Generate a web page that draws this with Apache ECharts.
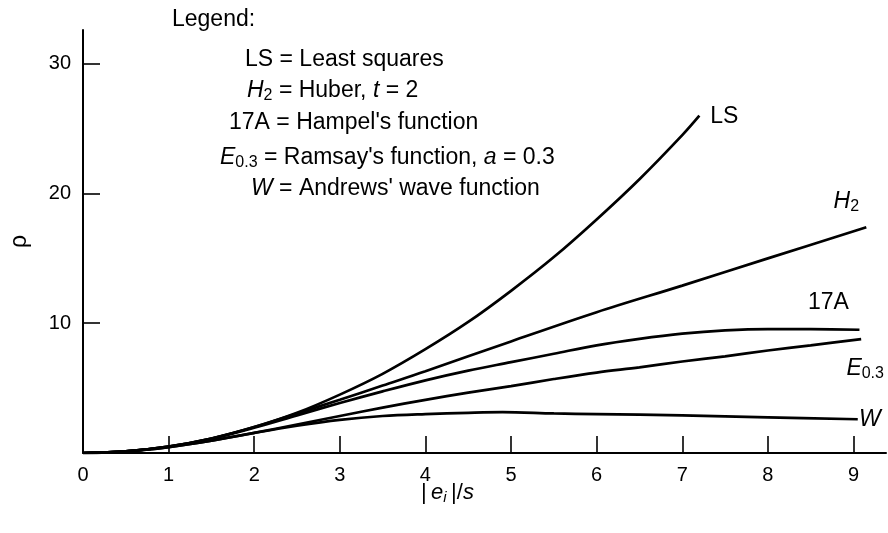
<!DOCTYPE html>
<html><head><meta charset="utf-8">
<script src="https://cdn.jsdelivr.net/npm/echarts@6/dist/echarts.min.js"></script>
<style>html,body{margin:0;padding:0;background:#fff}#c{width:888px;height:533px}</style>
</head><body><div id="c"></div>
<script>
// Axis ticks
const xTicks = [0, 1, 2, 3, 4, 5, 6, 7, 8, 9];
const yTicks = [10, 20, 30];

// LS = Least squares
const lsX = [0, 0.5, 1, 1.5, 2, 2.5, 3, 3.5, 4, 4.5, 5, 5.5, 6, 6.5, 7, 7.2];
const lsY = [0, 0.13, 0.5, 1.12, 2, 3.1, 4.5, 6.1, 8, 10.1, 12.5, 15.1, 18, 21.1, 24.5, 26];
// H2 = Huber, t = 2
const h2X = [0, 0.5, 1, 1.5, 2, 2.5, 3, 3.5, 4, 5, 6, 7, 8, 9.15];
const h2Y = [0, 0.13, 0.5, 1.12, 2, 3.05, 4.1, 5.2, 6.3, 8.6, 10.85, 12.9, 15.0, 17.4];
// 17A = Hampel's function
const hampelX = [0, 0.5, 1, 1.5, 2, 2.5, 3, 3.5, 4, 4.5, 5, 5.5, 6, 6.5, 7, 7.5, 8, 8.5, 9.07];
const hampelY = [0, 0.13, 0.5, 1.1, 1.95, 2.9, 3.85, 4.75, 5.6, 6.35, 7.0, 7.65, 8.3, 8.8, 9.2, 9.45, 9.55, 9.55, 9.5];
// E0.3 = Ramsay's function, a = 0.3
const ramsayX = [0, 0.5, 1, 1.5, 2, 2.5, 3, 3.5, 4, 4.5, 5, 5.5, 6, 6.5, 7, 7.5, 8, 8.5, 9.09];
const ramsayY = [0, 0.12, 0.45, 0.95, 1.55, 2.2, 2.85, 3.5, 4.1, 4.65, 5.15, 5.7, 6.2, 6.6, 7.05, 7.45, 7.9, 8.3, 8.77];
// W = Andrews' wave function
const waveX = [0, 0.5, 1, 1.5, 2, 2.5, 3, 3.5, 4, 4.5, 4.9, 5.5, 6, 7, 8, 9.05];
const waveY = [0, 0.12, 0.45, 0.95, 1.55, 2.1, 2.55, 2.85, 3.0, 3.1, 3.15, 3.05, 3.0, 2.9, 2.75, 2.6];

const FONT = "'Liberation Sans', Arial, Helvetica, sans-serif";
const FS = 23;
const chart = echarts.init(document.getElementById('c'), null, {renderer: 'canvas'});

function pairs(xs, ys) { return xs.map((x, i) => [x, ys[i]]); }
function last(xs, ys) { return [xs[xs.length - 1], ys[ys.length - 1]]; }

const rich = {
  i: {fontStyle: 'italic', fontSize: FS, fontFamily: FONT, color: '#000'},
  sub: {fontSize: 16, fontFamily: FONT, color: '#000', padding: [11, 0, 0, 0], lineHeight: 15},
  n: {fontSize: FS, fontFamily: FONT, color: '#000'}
};

const curves = [
  {name: 'LS', x: lsX, y: lsY},
  {name: 'H2', x: h2X, y: h2Y},
  {name: '17A', x: hampelX, y: hampelY},
  {name: 'E0.3', x: ramsayX, y: ramsayY},
  {name: 'W', x: waveX, y: waveY}
];

const labelDefs = {
  'LS': {text: '{n|LS}', offset: [25, 1]},
  'H2': {text: '{i|H}{sub|2}', offset: [-20, -26]},
  '17A': {text: '{n|17A}', offset: [-31, -27]},
  'E0.3': {text: '{i|E}{sub|0.3}', offset: [4, 29]},
  'W': {text: '{i|W}', offset: [12, 0]}
};

const series = [];
curves.forEach(c => {
  series.push({
    type: 'line', name: c.name, data: pairs(c.x, c.y),
    smooth: 0.35, showSymbol: false, symbol: 'none',
    lineStyle: {color: '#000', width: 2.7},
    z: 3, silent: true
  });
  const d = labelDefs[c.name];
  series.push({
    type: 'scatter', data: [last(c.x, c.y)], symbolSize: 0, silent: true,
    itemStyle: {opacity: 1, color: '#000'},
    label: {show: true, position: 'inside', formatter: d.text, offset: d.offset,
            align: 'center', verticalAlign: 'middle', rich: rich, opacity: 1,
            fontSize: FS, fontFamily: FONT, color: '#000', textBorderWidth: 0}
  });
});

const legendLines = [
  {text: '{n|Legend:}', left: 172, top: 8},
  {text: '{n|LS = Least squares}', left: 245, top: 48},
  {text: '{i|H}{sub|2}{n| = Huber, }{i|t}{n| = 2}', left: 247, top: 77},
  {text: "{n|17A = Hampel's function}", left: 229, top: 111},
  {text: "{i|E}{sub|0.3}{n| = Ramsay's function, }{i|a}{n| = 0.3}", left: 220, top: 144},
  {text: "{i|W}{n| = Andrews' wave function}", left: 251, top: 177}
];

chart.setOption({
  animation: false,
  backgroundColor: '#fff',
  grid: {left: 83, right: 2, top: 30, bottom: 80, containLabel: false},
  xAxis: {
    type: 'value', min: 0, max: 9.38,
    axisLine: {show: true, lineStyle: {color: '#000', width: 2}},
    axisTick: {show: true, inside: true, length: 17, customValues: xTicks, lineStyle: {color: '#000', width: 1.6}},
    axisLabel: {customValues: xTicks, margin: 12, fontSize: 20, fontFamily: FONT, color: '#000'},
    splitLine: {show: false}
  },
  yAxis: {
    type: 'value', min: 0, max: 32.6,
    name: 'ρ', nameLocation: 'middle', nameGap: 52, nameRotate: 90,
    nameTextStyle: {fontSize: 23, fontFamily: FONT, color: '#000'},
    axisLine: {show: true, lineStyle: {color: '#000', width: 2}},
    axisTick: {show: true, inside: true, length: 17, customValues: yTicks, lineStyle: {color: '#000', width: 1.6}},
    axisLabel: {customValues: yTicks, margin: 12, fontSize: 20, fontFamily: FONT, color: '#000'},
    splitLine: {show: false}
  },
  graphic: legendLines.map(l => ({
    type: 'text', left: l.left, top: l.top, silent: true,
    style: {text: l.text, rich: rich, fill: '#000', font: FS + 'px ' + FONT}
  })).concat([{
    type: 'text', left: 421, top: 480, silent: true,
    style: {text: '{n||}{i|\u2009e}{sub|i}{n|\u2009|/}{i|s}', rich: {
      n: {fontSize: 22, fontFamily: FONT, color: '#000'},
      i: {fontSize: 22, fontFamily: FONT, fontStyle: 'italic', color: '#000'},
      sub: {fontSize: 15, fontFamily: FONT, fontStyle: 'italic', color: '#000', padding: [10, 0, 0, 0], lineHeight: 15}
    }}
  }]),
  series: series
});
</script>
</body></html>
